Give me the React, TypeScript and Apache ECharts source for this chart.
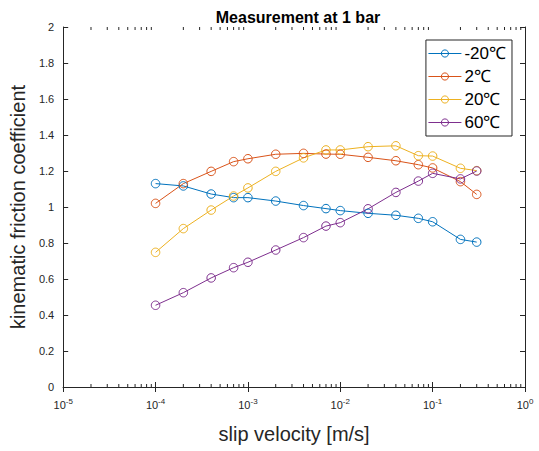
import React, { useEffect, useRef } from "react";
import * as echarts from "echarts";

const velocities = [1e-4, 2e-4, 4e-4, 7e-4, 1e-3, 2e-3, 4e-3, 7e-3, 1e-2, 2e-2, 4e-2, 7e-2, 1e-1, 2e-1, 3e-1];
const seriesNames = ["-20℃", "2℃", "20℃", "60℃"];
const valsM20 = [1.13, 1.117, 1.072, 1.052, 1.052, 1.033, 1.008, 0.991, 0.98, 0.965, 0.954, 0.937, 0.918, 0.82, 0.805];
const vals2 = [1.02, 1.13, 1.198, 1.252, 1.268, 1.293, 1.298, 1.294, 1.293, 1.276, 1.257, 1.235, 1.217, 1.141, 1.07];
const vals20 = [0.748, 0.88, 0.983, 1.061, 1.106, 1.198, 1.273, 1.317, 1.317, 1.335, 1.34, 1.285, 1.283, 1.215, 1.202];
const vals60 = [0.454, 0.524, 0.606, 0.663, 0.693, 0.761, 0.83, 0.894, 0.913, 0.99, 1.081, 1.144, 1.187, 1.156, 1.2];
const colors = ["#0072BD", "#D95319", "#EDB120", "#7E2F8E"];
const minorTickValues: number[] = [];
for (let k = -5; k <= -1; k++) {
  for (let m = 2; m <= 9; m++) minorTickValues.push(m * Math.pow(10, k));
}

const FONT = "'Liberation Sans', Arial, Helvetica, sans-serif";
const AX = "#262626";

export default function App() {
  const ref = useRef<HTMLDivElement>(null);
  useEffect(() => {
    if (!ref.current) return;
    const chart = echarts.init(ref.current, null, { renderer: "svg" });
    const allVals = [valsM20, vals2, vals20, vals60];
    const lineSeries = seriesNames.map((name, i) => ({
      name,
      type: "line",
      data: velocities.map((v, j) => [v, allVals[i][j]]),
      symbol: "circle",
      symbolSize: 8.5,
      lineStyle: { color: colors[i], width: 1 },
      itemStyle: { color: "rgba(255,255,255,0)", borderColor: colors[i], borderWidth: 1 },
      emphasis: { disabled: true },
    }));
    const option: any = {
      animation: false,
      textStyle: { fontFamily: FONT },
      title: {
        text: "Measurement at 1 bar",
        left: 293,
        textAlign: "center",
        top: 4,
        textStyle: { fontSize: 16, fontWeight: "bold", color: "#000", fontFamily: FONT },
      },
      legend: {
        data: seriesNames,
        orient: "vertical",
        right: 27,
        top: 40,
        itemWidth: 33,
        itemHeight: 9,
        itemGap: 6,
        padding: [5, 6, 5, 2],
        borderColor: AX,
        borderWidth: 1,
        borderRadius: 0,
        backgroundColor: "#fff",
        itemStyle: { borderWidth: 1 },
        lineStyle: { width: 1 },
        textStyle: { fontSize: 17, lineHeight: 17, color: "#000", fontFamily: FONT, padding: [0, 0, 0, -2] },
      },
      grid: { left: 60, right: 14, top: 27, bottom: 64 },
      xAxis: [
        {
          type: "log",
          logBase: 10,
          min: 1e-5,
          max: 1,
          position: "bottom",
          name: "slip velocity [m/s]",
          nameLocation: "middle",
          nameGap: 37,
          nameTextStyle: { fontSize: 20, color: AX, fontFamily: FONT },
          axisLine: { lineStyle: { color: AX, width: 1 } },
          axisTick: { inside: true, length: 5, lineStyle: { color: AX } },
          axisLabel: {
            margin: 10,
            color: AX,
            fontSize: 11,
            formatter: (v: number) => {
              const e = Math.round(Math.log10(v));
              return `{b|10}{s|${e}}`;
            },
            rich: {
              b: { fontSize: 11, color: AX, fontFamily: FONT },
              s: { fontSize: 8, color: AX, fontFamily: FONT, padding: [0, 0, 7, 0] },
            },
          },
          splitLine: { show: false },
        },
        {
          type: "log",
          logBase: 10,
          min: 1e-5,
          max: 1,
          position: "top",
          axisLine: { lineStyle: { color: AX, width: 1 } },
          axisTick: { inside: true, length: 5, lineStyle: { color: AX } },
          axisLabel: { show: false },
          splitLine: { show: false },
        },
      ],
      yAxis: [
        {
          type: "value",
          min: 0,
          max: 2,
          interval: 0.2,
          position: "left",
          name: "kinematic friction coefficient",
          nameLocation: "middle",
          nameGap: 31,
          nameTextStyle: { fontSize: 20, color: AX, fontFamily: FONT },
          axisLine: { show: true, lineStyle: { color: AX, width: 1 } },
          axisTick: { show: true, inside: true, length: 5, lineStyle: { color: AX } },
          axisLabel: { color: AX, fontSize: 11, margin: 9 },
          splitLine: { show: false },
        },
        {
          type: "value",
          min: 0,
          max: 2,
          interval: 0.2,
          position: "right",
          axisLine: { show: true, lineStyle: { color: AX, width: 1 } },
          axisTick: { show: true, inside: true, length: 5, lineStyle: { color: AX } },
          axisLabel: { show: false },
          splitLine: { show: false },
        },
      ],
      series: [
        ...lineSeries,
        {
          type: "custom",
          name: "minorTicks",
          silent: true,
          clip: false,
          xAxisIndex: 0,
          yAxisIndex: 0,
          data: minorTickValues.map((v) => [v, 0]),
          renderItem: (params: any, api: any) => {
            const xv = api.value(0);
            const pb = api.coord([xv, 0]);
            const pt = api.coord([xv, 2]);
            return {
              type: "group",
              children: [
                { type: "line", shape: { x1: pb[0], y1: pb[1], x2: pb[0], y2: pb[1] - 3 }, style: { stroke: AX, lineWidth: 1 } },
                { type: "line", shape: { x1: pt[0], y1: pt[1], x2: pt[0], y2: pt[1] + 3 }, style: { stroke: AX, lineWidth: 1 } },
              ],
            };
          },
        },
      ],
    };
    chart.setOption(option);
    return () => chart.dispose();
  }, []);
  return (
    <div
      ref={ref}
      style={{ position: "fixed", left: 0, top: 0, width: 539, height: 451, background: "#fff" }}
    />
  );
}
